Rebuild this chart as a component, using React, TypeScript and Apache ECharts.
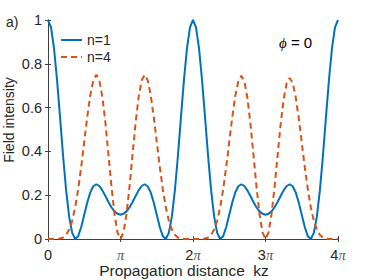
import React, { useEffect, useRef } from "react";
import * as echarts from "echarts";

// Propagation distance kz, sampled every π/24 (values in units of π)
const SAMPLE_STEP_PI = 1 / 24;

// Field intensity, n = 1 (solid blue)
const n1Intensity = [
  1, 0.966, 0.87, 0.725, 0.554, 0.378, 0.222, 0.102, 0.028, 0.0, 0.013, 0.055,
  0.111, 0.167, 0.213, 0.241, 0.25, 0.242, 0.222, 0.196, 0.169, 0.145, 0.126, 0.115,
  0.111, 0.115, 0.126, 0.145, 0.169, 0.196, 0.222, 0.242, 0.25, 0.241, 0.213, 0.167,
  0.111, 0.055, 0.013, 0.0, 0.028, 0.102, 0.222, 0.378, 0.554, 0.725, 0.87, 0.966,
  1, 0.966, 0.87, 0.725, 0.554, 0.378, 0.222, 0.102, 0.028, 0.0, 0.013, 0.055,
  0.111, 0.167, 0.213, 0.241, 0.25, 0.242, 0.222, 0.196, 0.169, 0.145, 0.126, 0.115,
  0.111, 0.115, 0.126, 0.145, 0.169, 0.196, 0.222, 0.242, 0.25, 0.241, 0.213, 0.167,
  0.111, 0.055, 0.013, 0.0, 0.028, 0.102, 0.222, 0.378, 0.554, 0.725, 0.87, 0.966,
  1,
];

// Field intensity, n = 4 (dashed orange)
const n4Intensity = [
  0, 0, 0, 0.0004, 0.002, 0.007, 0.019, 0.043, 0.083, 0.145, 0.228, 0.33,
  0.444, 0.558, 0.657, 0.725, 0.75, 0.724, 0.648, 0.53, 0.387, 0.241, 0.115, 0.03,
  0, 0.03, 0.115, 0.241, 0.387, 0.53, 0.648, 0.724, 0.75, 0.725, 0.657, 0.558,
  0.444, 0.33, 0.228, 0.145, 0.083, 0.043, 0.019, 0.007, 0.002, 0.0004, 0, 0,
  0, 0, 0, 0.0004, 0.002, 0.007, 0.019, 0.043, 0.083, 0.145, 0.228, 0.33,
  0.444, 0.557, 0.654, 0.72, 0.745, 0.72, 0.645, 0.528, 0.386, 0.241, 0.115, 0.03,
  0, 0.03, 0.114, 0.238, 0.382, 0.522, 0.638, 0.712, 0.735, 0.713, 0.648, 0.552,
  0.441, 0.329, 0.228, 0.145, 0.083, 0.043, 0.019, 0.007, 0.002, 0.0004, 0, 0,
  0,
];

const seriesNames = ["n=1", "n=4"];
const xTicksPi = [0, 1, 2, 3, 4];
const yMin = 0;
const yMax = 1;
const yStep = 0.2;
const xTitle = "Propagation distance  kz";
const yTitle = "Field intensity";

const SANS = "'Liberation Sans', Arial, Helvetica, sans-serif";
const SERIF = "'Liberation Serif', 'DejaVu Serif', serif";
const TEXT = "#262626";
const AXIS = "#404040";

function toPoints(values: number[]) {
  return values.map((v, i) => [i * SAMPLE_STEP_PI, v]);
}

export default function App() {
  const ref = useRef<HTMLDivElement>(null);

  useEffect(() => {
    if (!ref.current) return;
    const chart = echarts.init(ref.current, undefined, { renderer: "svg" });

    const xMin = xTicksPi[0];
    const xMax = xTicksPi[xTicksPi.length - 1];

    const piLabel = (v: number) => {
      if (v === 0) return "0";
      if (v === 1) return "{p|π}";
      return `${v}{p|π}`;
    };

    const boxAxisCommon = {
      axisLine: { show: true, lineStyle: { color: AXIS, width: 1 } },
      axisTick: { show: true, inside: true, length: 3, lineStyle: { color: AXIS } },
      axisLabel: { show: false },
      splitLine: { show: false },
    };

    chart.setOption({
      animation: false,
      backgroundColor: "#ffffff",
      grid: {
        left: 48,
        top: 20,
        width: 290,
        height: 219,
        containLabel: false,
        outerBoundsMode: "none",
      },
      legend: {
        data: seriesNames,
        orient: "vertical",
        left: 55,
        top: 28,
        itemWidth: 21,
        itemHeight: 14,
        itemGap: 3,
        itemStyle: { opacity: 0 },
        textStyle: { fontFamily: SANS, fontSize: 14, color: TEXT },
      },
      xAxis: [
        {
          type: "value",
          min: xMin,
          max: xMax,
          interval: 1,
          position: "bottom",
          axisLine: { show: true, lineStyle: { color: AXIS, width: 1 } },
          axisTick: { show: true, inside: true, length: 3, lineStyle: { color: AXIS } },
          splitLine: { show: false },
          axisLabel: {
            formatter: piLabel,
            fontFamily: SANS,
            fontSize: 14.5,
            color: TEXT,
            margin: 8,
            rich: {
              p: {
                fontFamily: SERIF,
                fontStyle: "italic",
                fontSize: 14.5,
                color: "#555555",
              },
            },
          },
        },
        {
          type: "value",
          min: xMin,
          max: xMax,
          interval: 1,
          position: "top",
          ...boxAxisCommon,
        },
      ],
      yAxis: [
        {
          type: "value",
          min: yMin,
          max: yMax,
          interval: yStep,
          position: "left",
          axisLine: { show: true, lineStyle: { color: AXIS, width: 1 } },
          axisTick: { show: true, inside: true, length: 3, lineStyle: { color: AXIS } },
          splitLine: { show: false },
          axisLabel: {
            fontFamily: SANS,
            fontSize: 14.5,
            color: TEXT,
            margin: 6,
          },
        },
        {
          type: "value",
          min: yMin,
          max: yMax,
          interval: yStep,
          position: "right",
          ...boxAxisCommon,
        },
      ],
      graphic: [
        {
          type: "text",
          left: 6,
          top: 15,
          style: { text: "a)", fontFamily: SANS, fontSize: 14, fill: TEXT },
        },
        {
          type: "text",
          left: 279,
          top: 35,
          style: {
            text: "{f|ϕ} = 0",
            fontFamily: SANS,
            fontSize: 15,
            fill: "#000000",
            rich: {
              f: { fontFamily: SERIF, fontStyle: "italic", fontSize: 15, fill: "#000000" },
            },
          },
        },
        {
          type: "text",
          x: 184,
          y: 270,
          style: {
            text: xTitle,
            fontFamily: SANS,
            fontSize: 15.5,
            fill: TEXT,
            align: "center",
            verticalAlign: "middle",
          },
        },
        {
          type: "text",
          x: 9,
          y: 120,
          rotation: Math.PI / 2,
          style: {
            text: yTitle,
            fontFamily: SANS,
            fontSize: 14,
            fill: TEXT,
            align: "center",
            verticalAlign: "middle",
          },
        },
      ],
      series: [
        {
          name: seriesNames[0],
          type: "line",
          data: toPoints(n1Intensity),
          xAxisIndex: 0,
          yAxisIndex: 0,
          symbol: "none",
          showSymbol: false,
          smooth: false,
          lineStyle: { color: "#0072BD", width: 2 },
          itemStyle: { color: "#0072BD" },
        },
        {
          name: seriesNames[1],
          type: "line",
          data: toPoints(n4Intensity),
          xAxisIndex: 0,
          yAxisIndex: 0,
          symbol: "none",
          showSymbol: false,
          smooth: false,
          lineStyle: { color: "#D95319", width: 2, type: [6, 4] },
          itemStyle: { color: "#D95319" },
        },
      ],
    });

    return () => chart.dispose();
  }, []);

  return (
    <div
      ref={ref}
      style={{ position: "absolute", left: 0, top: 0, width: 374, height: 280, background: "#fff" }}
    />
  );
}
